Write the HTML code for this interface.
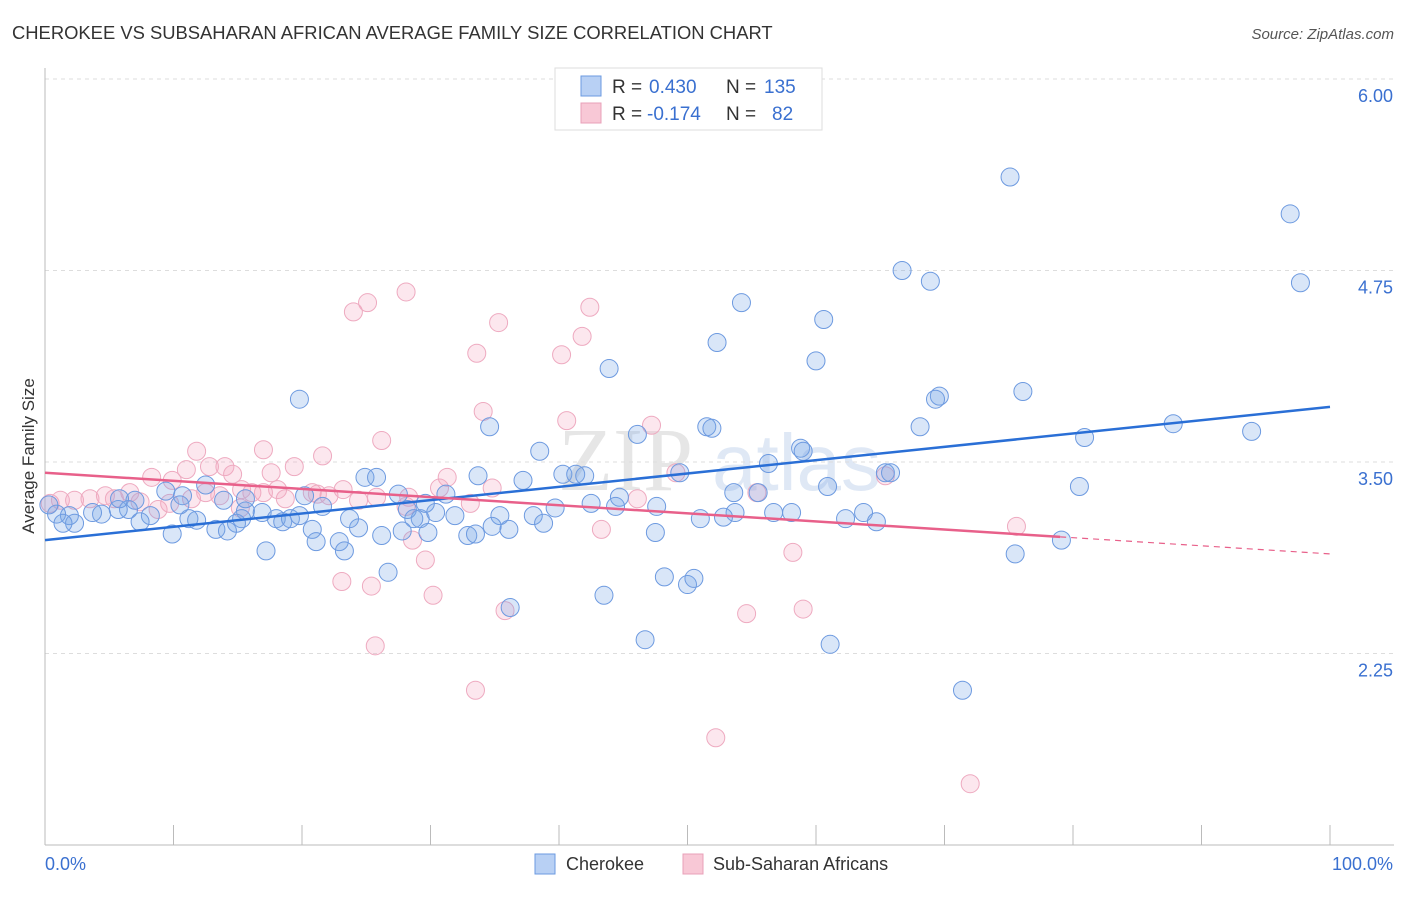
<!DOCTYPE html>
<html><head><meta charset="utf-8"><style>
body{margin:0;background:#fff;font-family:"Liberation Sans",sans-serif}
</style></head><body>
<svg id="chart" width="1406" height="892" xmlns="http://www.w3.org/2000/svg">
<text x="12" y="39" font-size="18.4" fill="#333">CHEROKEE VS SUBSAHARAN AFRICAN AVERAGE FAMILY SIZE CORRELATION CHART</text>
<text x="1394" y="39" font-size="15" fill="#555" font-style="italic" text-anchor="end">Source: ZipAtlas.com</text>
<text transform="translate(34,456) rotate(-90)" font-size="17" fill="#333" text-anchor="middle">Average Family Size</text>
<g><text x="558" y="490" font-size="90" font-family="Liberation Serif,serif" fill="#e6e6e6">ZIP</text><text x="712" y="490" font-size="80" fill="#dfe8f5">atlas</text></g>
<g id="grid"></g><g id="axes"></g><g id="pts"></g><g id="lines"></g>
<g>
<rect x="555" y="68" width="267" height="62" fill="#fff" stroke="#ddd"/>
<rect x="581" y="76" width="20" height="20" fill="#b8d0f4" stroke="#6b9ae0"/>
<rect x="581" y="103" width="20" height="20" fill="#f8c8d6" stroke="#e8a0b8"/>
<text x="612" y="93" font-size="19" fill="#333">R =</text>
<text x="649" y="93" font-size="19" fill="#3a70d0">0.430</text>
<text x="726" y="93" font-size="19" fill="#333">N =</text>
<text x="764" y="93" font-size="19" fill="#3a70d0">135</text>
<text x="612" y="120" font-size="19" fill="#333">R =</text>
<text x="647" y="120" font-size="19" fill="#3a70d0">-0.174</text>
<text x="726" y="120" font-size="19" fill="#333">N =</text>
<text x="772" y="120" font-size="19" fill="#3a70d0">82</text>
</g>
<g>
<rect x="535" y="854" width="20" height="20" fill="#b8d0f4" stroke="#6b9ae0"/>
<text x="566" y="870" font-size="18" fill="#333">Cherokee</text>
<rect x="683" y="854" width="20" height="20" fill="#f8c8d6" stroke="#e8a0b8"/>
<text x="713" y="870" font-size="18" fill="#333">Sub-Saharan Africans</text>
</g>
</svg>
<script>
const yTicks=[6.00,4.75,3.50,2.25];
const xTickCount=10;
const blueX=[19.8,75.1,96.9,97.7,66.7,68.9,54.2,60.6,52.3,60.0,43.9,69.6,69.3,76.1,34.6,51.5,51.9,68.1,46.1,87.8,93.9,80.9,58.8,59.0,38.5,56.3,65.4,65.8,24.9,25.8,33.7,40.3,41.3,42.0,37.2,60.9,80.5,49.4,55.5,53.6,12.5,9.4,10.7,44.7,27.5,31.2,42.5,44.4,47.6,39.7,53.7,56.7,58.1,63.7,52.8,51.0,62.3,64.7,28.2,29.2,28.7,30.4,31.9,35.4,38.0,38.8,34.8,36.1,32.9,33.5,29.8,27.8,26.2,24.4,23.7,21.6,20.8,21.1,22.9,23.3,17.2,15.6,16.9,18.0,18.5,19.1,19.8,15.3,14.9,13.3,14.2,9.9,11.8,11.2,10.5,8.2,7.4,6.5,5.7,4.4,3.7,1.9,0.9,2.3,1.4,13.9,15.6,20.2,26.7,36.2,43.5,48.2,50.0,50.5,46.7,61.1,71.4,75.5,79.1,47.5,29.6,0.3,7.0,5.8];
const blueY=[3.91,5.36,5.12,4.67,4.75,4.68,4.54,4.43,4.28,4.16,4.11,3.93,3.91,3.96,3.73,3.73,3.72,3.73,3.68,3.75,3.70,3.66,3.59,3.57,3.57,3.49,3.43,3.43,3.40,3.40,3.41,3.42,3.42,3.41,3.38,3.34,3.34,3.43,3.30,3.30,3.35,3.31,3.28,3.27,3.29,3.29,3.23,3.21,3.21,3.20,3.17,3.17,3.17,3.17,3.14,3.13,3.13,3.11,3.19,3.13,3.13,3.17,3.15,3.15,3.15,3.10,3.08,3.06,3.02,3.03,3.04,3.05,3.02,3.07,3.13,3.21,3.06,2.98,2.98,2.92,2.92,3.18,3.17,3.13,3.11,3.13,3.15,3.13,3.10,3.06,3.05,3.03,3.12,3.13,3.22,3.15,3.11,3.19,3.19,3.16,3.17,3.15,3.16,3.10,3.10,3.25,3.26,3.28,2.78,2.55,2.63,2.75,2.70,2.74,2.34,2.31,2.01,2.90,2.99,3.04,3.23,3.22,3.25,3.26];
const pinkX=[25.1,24.0,28.1,42.4,35.3,41.8,33.6,40.2,34.1,40.6,47.2,26.2,49.1,17.0,21.6,19.4,11.8,11.0,8.3,9.9,14.0,14.6,17.6,12.8,16.1,12.5,18.1,20.8,21.2,23.2,24.4,25.8,28.3,30.7,31.3,34.8,33.1,28.1,46.1,55.4,65.4,0.4,1.2,2.3,3.5,4.7,5.4,6.6,7.4,8.8,9.7,11.4,13.6,15.2,18.7,43.3,28.6,29.6,23.1,25.4,30.2,35.8,54.6,59.0,58.2,75.6,25.7,33.5,52.2,72.0,15.3,17.0,22.1];
const pinkY=[4.54,4.48,4.61,4.51,4.41,4.32,4.21,4.20,3.83,3.77,3.74,3.64,3.43,3.58,3.54,3.47,3.57,3.45,3.40,3.38,3.47,3.42,3.43,3.47,3.30,3.30,3.32,3.30,3.29,3.32,3.25,3.27,3.27,3.33,3.40,3.33,3.23,3.21,3.26,3.30,3.41,3.23,3.25,3.25,3.26,3.28,3.26,3.30,3.24,3.19,3.23,3.26,3.28,3.20,3.26,3.06,2.99,2.86,2.72,2.69,2.63,2.53,2.51,2.54,2.91,3.08,2.30,2.01,1.70,1.40,3.32,3.30,3.28];
const blueTrend=[2.99,3.86];
const pinkTrend=[3.43,2.90];
const pinkSolidEnd=79;
const NS="http://www.w3.org/2000/svg";
const X0=45,X1=1330;
function xs(v){return X0+(X1-X0)*v/100;}
function ys(v){return 462-(v-3.5)*153.2;}
function mk(t,a,p){const e=document.createElementNS(NS,t);for(const k in a)e.setAttribute(k,a[k]);p.appendChild(e);return e;}
const grid=document.getElementById('grid'),axes=document.getElementById('axes'),pts=document.getElementById('pts'),lines=document.getElementById('lines');
yTicks.forEach(v=>{
 const l=mk('line',{x1:X0,x2:1394,y1:ys(v),y2:ys(v),stroke:'#ddd','stroke-dasharray':'4,4'},grid);
 
 
 const t=mk('text',{x:1393,y:ys(v)+23,'font-size':18,fill:'#3a70d0','text-anchor':'end'},axes);
 t.textContent=v.toFixed(2);
 
 
});
const ya=mk('line',{x1:X0,x2:X0,y1:68,y2:845,stroke:'#bbb'},axes);


const xa=mk('line',{x1:X0,x2:1394,y1:845,y2:845,stroke:'#bbb'},axes);


for(let i=0;i<=xTickCount;i++){
 const t=mk('line',{x1:xs(i*10),x2:xs(i*10),y1:825,y2:845,stroke:'#bbb'},axes);
 
 
}
const xl0=mk('text',{x:45,y:870,'font-size':18,fill:'#3a70d0'},axes);xl0.textContent='0.0%';


const xl1=mk('text',{x:1393,y:870,'font-size':18,fill:'#3a70d0','text-anchor':'end'},axes);xl1.textContent='100.0%';


function drawPts(X,Y,fill,stroke,name){
 X.forEach((x,i)=>{
  const c=mk('circle',{cx:xs(x),cy:ys(Y[i]),r:9,fill:fill,stroke:stroke,'stroke-width':1},pts);
  
  
 });
}
drawPts(pinkX,pinkY,'rgba(244,170,195,0.28)','#eeaac0','subsaharan-point');
drawPts(blueX,blueY,'rgba(120,165,230,0.28)','#6d9ae0','cherokee-point');
const bl=mk('line',{x1:xs(0),y1:ys(blueTrend[0]),x2:xs(100),y2:ys(blueTrend[1]),stroke:'#2a6fd6','stroke-width':2.5},lines);


const pm=pinkTrend[0]+(pinkTrend[1]-pinkTrend[0])*pinkSolidEnd/100;
const pl=mk('line',{x1:xs(0),y1:ys(pinkTrend[0]),x2:xs(pinkSolidEnd),y2:ys(pm),stroke:'#e8608a','stroke-width':2.5},lines);


const pd=mk('line',{x1:xs(pinkSolidEnd),y1:ys(pm),x2:xs(100),y2:ys(pinkTrend[1]),stroke:'#e8608a','stroke-width':1.2,'stroke-dasharray':'6,5'},lines);


</script>
</body></html>
